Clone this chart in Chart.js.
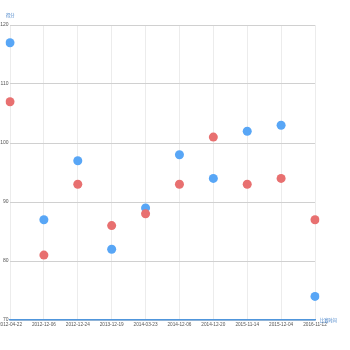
<!DOCTYPE html>
<html>
<head>
<meta charset="utf-8">
<script src="https://cdn.jsdelivr.net/npm/chart.js@4/dist/chart.umd.min.js"></script>
<style>
  html, body { margin: 0; padding: 0; background: #fff; }
  #wrap { width: 350px; height: 350px; }
</style>
</head>
<body>
<div id="wrap"><canvas id="scoreChart"></canvas></div>
<script>
// 比赛时间
const matchDates = ['2012-04-22', '2012-12-06', '2012-12-24', '2013-12-19', '2014-03-23',
  '2014-12-06', '2014-12-20', '2015-11-14', '2015-12-04', '2016-11-12'];
// 两队得分
const blueScores = [117, 87, 97, 82, 89, 98, 94, 102, 103, 74];
const redScores = [107, 81, 93, 86, 88, 93, 101, 93, 94, 87];
const yTicks = [70, 80, 90, 100, 110, 120];

const titleColor = 'rgb(70,130,200)';

// 轴名称：y 轴在左上角，x 轴在右端
const axisNames = {
    id: 'axisNames',
    afterDraw(chart) {
        const { ctx, chartArea } = chart;
        ctx.save();
        ctx.fillStyle = titleColor;
        ctx.font = '4.2px "Noto Sans CJK SC"';
        ctx.textBaseline = 'middle';
        ctx.textAlign = 'left';
        ctx.fillText('得分', chartArea.left - 4, chartArea.top - 10);
        ctx.fillText('比赛时间', chartArea.right + 5, chartArea.bottom);
        ctx.restore();
    }
};

const ctx = document.getElementById('scoreChart').getContext('2d');
new Chart(ctx, {
    type: 'line',
    data: {
        labels: matchDates,
        datasets: [
            {
                data: redScores,
                showLine: false,
                pointRadius: 4.5,
                pointBorderWidth: 0,
                pointBackgroundColor: 'rgb(232,112,112)',
                pointBorderColor: 'rgb(232,112,112)'
            },
            {
                data: blueScores,
                showLine: false,
                pointRadius: 4.5,
                pointBorderWidth: 0,
                pointBackgroundColor: 'rgb(88,166,246)',
                pointBorderColor: 'rgb(88,166,246)'
            }
        ]
    },
    options: {
        responsive: true,
        maintainAspectRatio: false,
        animation: false,
        layout: { padding: { top: 25, right: 35, left: 0, bottom: 0 } },
        plugins: {
            legend: { display: false },
            tooltip: { enabled: false }
        },
        scales: {
            x: {
                offset: false,
                grid: { color: 'rgb(236,236,236)', drawTicks: false },
                border: { color: 'rgb(80,150,220)', width: 1.5 },
                ticks: {
                    color: '#555',
                    font: { size: 4.7, family: 'Liberation Sans' },
                    padding: 2,
                    maxRotation: 0,
                    autoSkip: false
                },
                afterFit(scale) {
                    scale.height = 30;
                    scale.paddingLeft = 0;
                    scale.paddingRight = 0;
                }
            },
            y: {
                min: 70,
                max: 120,
                afterBuildTicks(scale) {
                    scale.ticks = yTicks.map(v => ({ value: v }));
                },
                grid: { color: 'rgb(208,208,208)', drawTicks: false },
                border: { display: false },
                ticks: {
                    color: '#555',
                    font: { size: 5, family: 'Liberation Sans' },
                    padding: 1.5
                },
                afterFit(scale) {
                    scale.width = 10;
                }
            }
        }
    },
    plugins: [axisNames]
});
</script>
</body>
</html>
